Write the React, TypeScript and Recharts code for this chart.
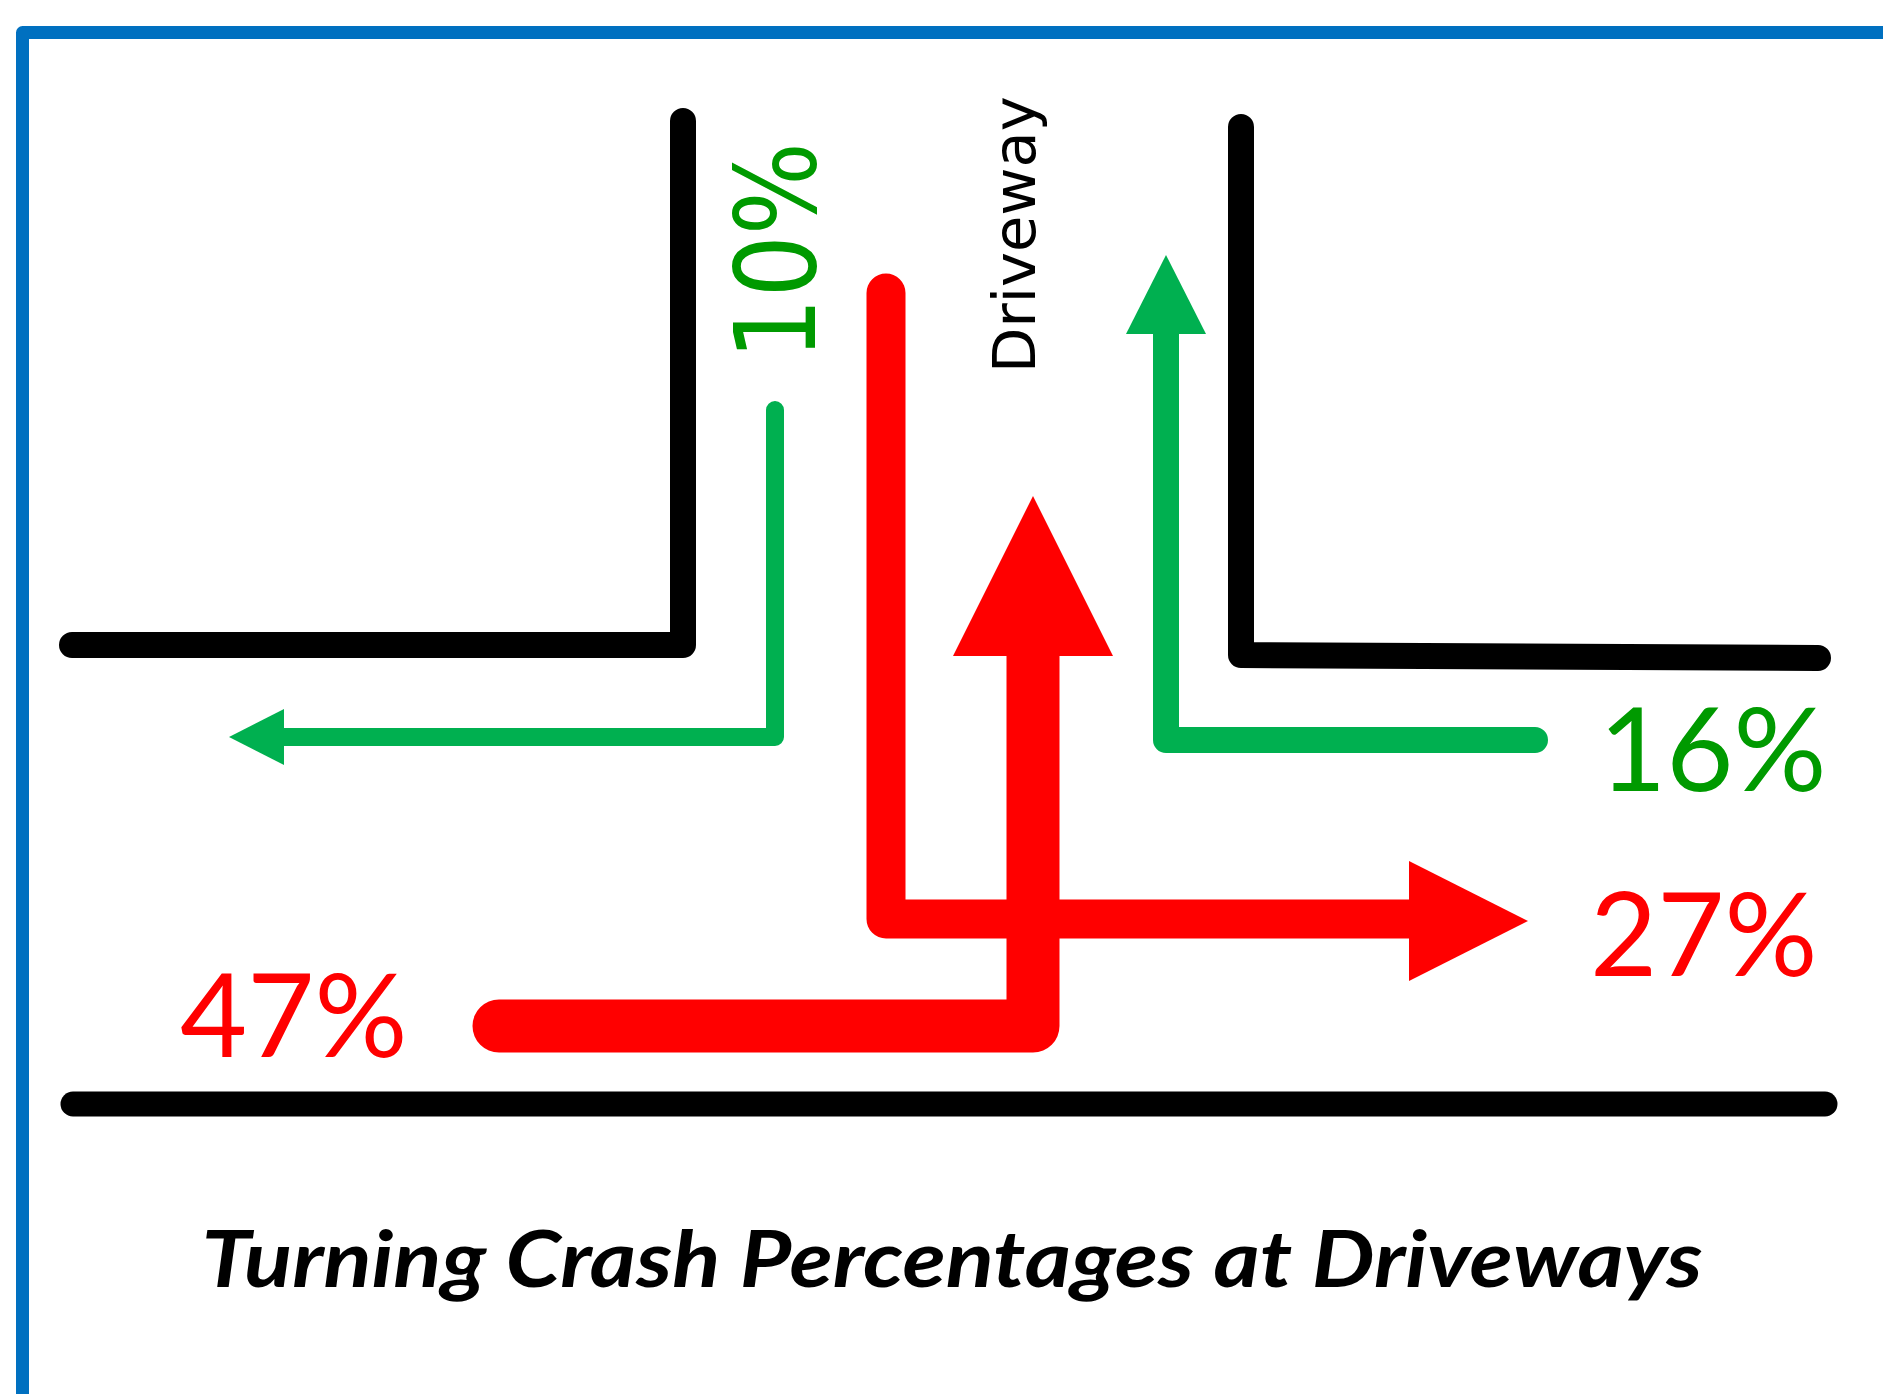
import { ComposedChart, Line, Scatter, XAxis, YAxis } from "recharts";

const W = 1883;
const H = 1394;

// diagram units follow the picture's own pixel grid (y grows downward)
const frame = [
  { x: 22.5, y: H },
  { x: 22.5, y: 32.5 },
  { x: W, y: 32.5 },
];
const curbLeft = [
  { x: 72, y: 645 },
  { x: 683, y: 645 },
  { x: 683, y: 121 },
];
const curbRight = [
  { x: 1241, y: 127 },
  { x: 1241, y: 655 },
  { x: 1818, y: 658 },
];
const curbBottom = [
  { x: 73, y: 1104 },
  { x: 1825, y: 1104 },
];

// turning paths, one per crash share
const leftOut = [
  { x: 775, y: 410 },
  { x: 775, y: 737 },
  { x: 284, y: 737 },
];
const leftIn = [
  { x: 1535, y: 740 },
  { x: 1166, y: 740 },
  { x: 1166, y: 334 },
];
const rightOut = [
  { x: 886, y: 293 },
  { x: 886, y: 919 },
  { x: 1409, y: 919 },
];
const rightIn = [
  { x: 499, y: 1026 },
  { x: 1033, y: 1026 },
  { x: 1033, y: 656 },
];

const heads = [
  { x: 229, y: 737, dir: "left", kind: "leftOut" },
  { x: 1166, y: 255, dir: "up", kind: "leftIn" },
  { x: 1528, y: 921, dir: "right", kind: "rightOut" },
  { x: 1033, y: 496, dir: "up", kind: "rightIn" },
];

const shares = ["47%", "27%", "16%", "10%"];
const labels = [
  { x: 180, y: 1057, text: shares[0], kind: "red" },
  { x: 1590, y: 976, text: shares[1], kind: "red" },
  { x: 1599, y: 791, text: shares[2], kind: "green" },
  { x: 815, y: 360, text: shares[3], kind: "greenUp" },
  { x: 1035, y: 373, text: "Driveway", kind: "drive" },
  { x: 952, y: 1287, text: "Turning Crash Percentages at Driveways", kind: "title" },
];

const RED = "#FF0000";
const GREEN = "#00B050";

const headStyle: Record<string, { len: number; half: number; color: string }> = {
  leftOut: { len: 55, half: 28, color: GREEN },
  leftIn: { len: 79, half: 40, color: GREEN },
  rightOut: { len: 119, half: 60, color: RED },
  rightIn: { len: 160, half: 80, color: RED },
};

const dirs: Record<string, [number, number]> = {
  left: [-1, 0],
  right: [1, 0],
  up: [0, -1],
};

const tagStyle: Record<string, any> = {
  red: { fill: RED, fontFamily: "Lato", fontSize: 116 },
  green: { fill: "#009A00", fontFamily: "Lato", fontSize: 116 },
  greenUp: { fill: "#009A00", fontFamily: "DejaVu Sans", fontSize: 112, rot: true, len: 218 },
  drive: { fill: "#000", fontFamily: "DejaVu Sans", fontSize: 59, rot: true },
  title: {
    fill: "#000",
    fontFamily: "Lato",
    fontSize: 78,
    fontWeight: 700,
    fontStyle: "italic",
    anchor: "middle",
    len: 1501,
  },
};

function ArrowHead(props: any) {
  const { cx, cy, payload } = props;
  const s = headStyle[payload.kind];
  const [dx, dy] = dirs[payload.dir];
  const bx = cx - dx * s.len;
  const by = cy - dy * s.len;
  const px = -dy * s.half;
  const py = dx * s.half;
  const pts = `${cx},${cy} ${bx + px},${by + py} ${bx - px},${by - py}`;
  return <polygon points={pts} fill={s.color} />;
}

function Tag(props: any) {
  const { cx, cy, payload } = props;
  const s = tagStyle[payload.kind];
  return (
    <text
      x={cx}
      y={cy}
      fill={s.fill}
      fontFamily={s.fontFamily}
      fontSize={s.fontSize}
      fontWeight={s.fontWeight}
      fontStyle={s.fontStyle}
      textAnchor={s.anchor || "start"}
      textLength={s.len}
      lengthAdjust={s.len ? "spacingAndGlyphs" : undefined}
      transform={s.rot ? `rotate(-90 ${cx} ${cy})` : undefined}
    >
      {payload.text}
    </text>
  );
}

function path(data: { x: number; y: number }[], color: string, width: number, key: string) {
  return (
    <Line
      key={key}
      data={data}
      dataKey="y"
      type="linear"
      stroke={color}
      strokeWidth={width}
      strokeLinecap="round"
      strokeLinejoin="round"
      dot={false}
      activeDot={false}
      isAnimationActive={false}
    />
  );
}

export default function App() {
  return (
    <div style={{ position: "absolute", left: 0, top: 0, width: W, height: H, background: "#fff" }}>
      <ComposedChart width={W} height={H} margin={{ top: 0, right: 0, bottom: 0, left: 0 }}>
        <XAxis type="number" dataKey="x" domain={[0, W]} allowDataOverflow hide />
        <YAxis type="number" dataKey="y" domain={[0, H]} allowDataOverflow reversed hide />
        {path(frame, "#0070C0", 13, "frame")}
        {path(curbLeft, "#000", 26, "curbLeft")}
        {path(curbRight, "#000", 26, "curbRight")}
        {path(curbBottom, "#000", 25, "curbBottom")}
        {path(leftOut, GREEN, 18, "leftOut")}
        {path(leftIn, GREEN, 26, "leftIn")}
        {path(rightOut, RED, 39, "rightOut")}
        {path(rightIn, RED, 53, "rightIn")}
        <Scatter data={heads} shape={<ArrowHead />} isAnimationActive={false} />
        <Scatter data={labels} shape={<Tag />} isAnimationActive={false} />
      </ComposedChart>
    </div>
  );
}
